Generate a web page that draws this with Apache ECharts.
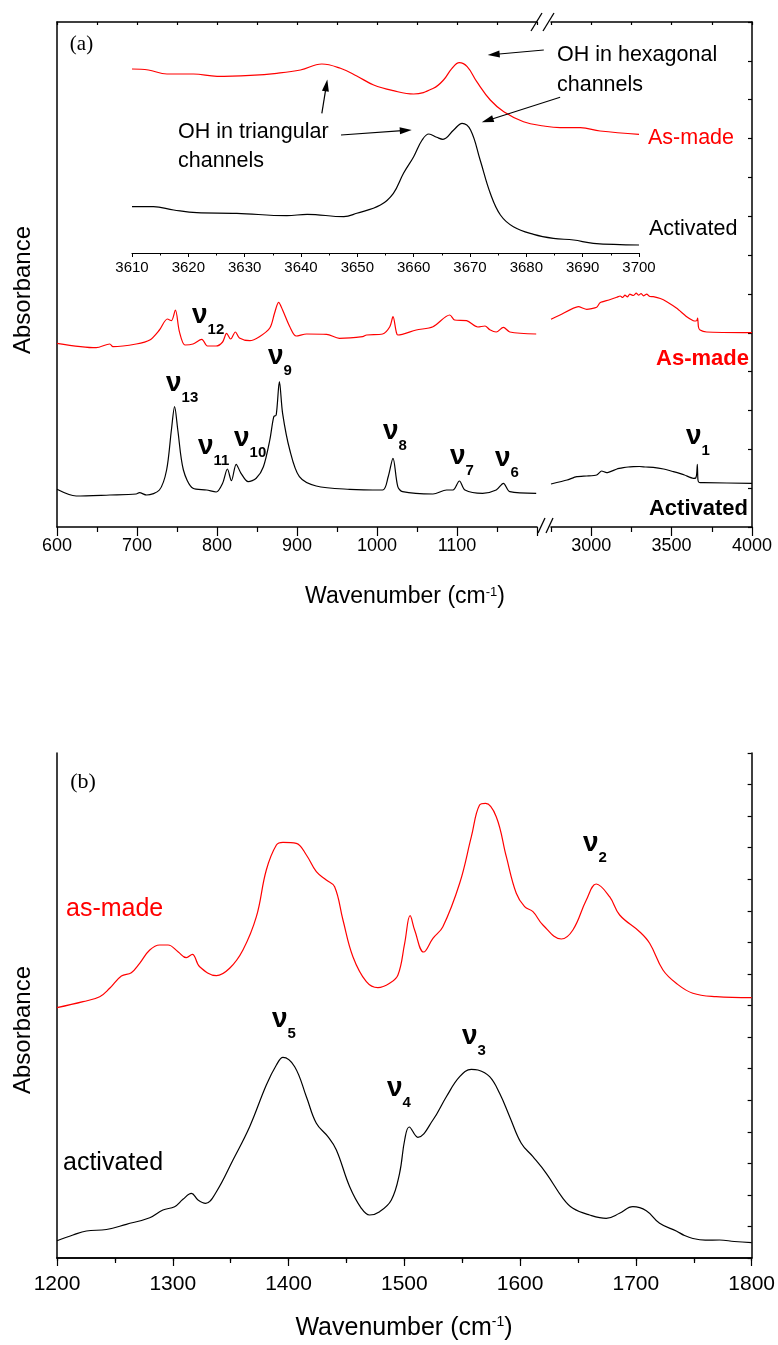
<!DOCTYPE html>
<html><head><meta charset="utf-8">
<script src="https://cdn.jsdelivr.net/npm/echarts@6/dist/echarts.min.js"></script>
<style>html,body{margin:0;padding:0;background:#fff}#c{width:778px;height:1345px}</style>
</head><body><div id="c"></div>
<script>
// ---------------- DATA (wavenumber in cm-1, absorbance in arbitrary offset units) ----------------
// Panel (a), low-wavenumber segment
const aLeftAsMadeWn = [600,649,666,670,699,716,728,738,743,748,753,760,770,781,788,799,807,812,817,823,828,841,853,866,872,877,882,891,899,912,937,953,982,987,1007,1016,1020,1024,1026,1049,1070,1091,1097,1112,1126,1135,1141,1149,1158,1166,1199];
const aLeftAsMadeAbs = [1.837,1.793,1.83,1.803,1.83,1.87,1.97,2.08,2.063,2.17,1.953,1.82,1.83,1.877,1.81,1.81,1.85,1.937,1.88,1.95,1.89,1.863,1.903,1.99,2.14,2.247,2.17,2.003,1.91,1.93,1.927,1.887,1.903,1.92,1.93,2.003,2.103,1.953,1.92,1.97,2.003,2.12,2.07,2.063,2.0,2.01,1.973,1.95,1.997,1.95,1.93];
const aLeftActivatedWn = [600,624,666,699,703,712,728,737,743,747,751,758,770,787,799,807,813,818,824,830,839,849,858,866,871,874,878,882,891,903,924,966,1007,1014,1020,1026,1032,1070,1087,1095,1103,1110,1132,1149,1158,1166,1199];
const aLeftActivatedAbs = [0.377,0.31,0.32,0.33,0.343,0.32,0.37,0.57,0.97,1.203,0.97,0.57,0.387,0.37,0.35,0.437,0.58,0.463,0.627,0.537,0.453,0.487,0.603,0.87,1.103,1.12,1.453,1.137,0.77,0.503,0.41,0.377,0.37,0.503,0.687,0.403,0.353,0.33,0.37,0.37,0.46,0.37,0.337,0.37,0.437,0.353,0.337];
// Panel (a), high-wavenumber segment
const aRightAsMadeWn = [2750,2806,2920,2972,3034,3055,3110,3159,3180,3195,3210,3225,3240,3262,3280,3295,3310,3325,3345,3365,3386,3430,3470,3532,3594,3635,3650,3657,3662,3667,3677,3718,4000];
const aRightAsMadeAbs = [2.077,2.12,2.203,2.177,2.197,2.243,2.27,2.297,2.31,2.295,2.318,2.302,2.328,2.315,2.338,2.318,2.335,2.312,2.328,2.305,2.303,2.285,2.253,2.187,2.103,2.063,2.06,2.065,2.09,2.0,1.97,1.95,1.943];
const aRightActivatedWn = [2750,2850,2910,2972,3034,3065,3096,3160,3200,3230,3262,3300,3340,3386,3450,3511,3580,3635,3650,3656,3660,3664,3672,3700,4000];
const aRightActivatedAbs = [0.43,0.47,0.503,0.51,0.52,0.56,0.543,0.58,0.593,0.6,0.603,0.605,0.6,0.597,0.58,0.553,0.52,0.487,0.49,0.53,0.627,0.47,0.445,0.443,0.437];
// Panel (a) inset, OH region
const insetAsMadeWn = [3610,3612.9,3616.2,3620.9,3625.1,3631,3635.7,3639.9,3643.7,3647,3649.9,3652.9,3656.4,3660,3663.5,3665.3,3666.8,3668.1,3669.5,3671.2,3673.6,3676,3679.5,3683.1,3686,3689.6,3693.1,3700];
const insetAsMadeAbs = [4.58,4.57,4.53,4.53,4.507,4.517,4.537,4.57,4.63,4.587,4.51,4.42,4.363,4.33,4.387,4.47,4.587,4.643,4.603,4.453,4.27,4.153,4.053,4.01,3.993,3.993,3.96,3.927];
const insetActivatedWn = [3610,3613.8,3617.4,3621.5,3628.6,3637.5,3641.1,3647.6,3649.9,3654.1,3656.4,3658.2,3660,3661.5,3662.7,3664.1,3665.2,3667.1,3668.6,3670.1,3671.8,3673.6,3675.4,3677.7,3681.3,3684.8,3688.4,3691.9,3700];
const insetActivatedAbs = [3.203,3.203,3.17,3.143,3.137,3.113,3.127,3.103,3.137,3.22,3.337,3.537,3.703,3.87,3.93,3.897,3.877,3.97,4.037,3.97,3.67,3.337,3.12,3.003,2.927,2.887,2.87,2.837,2.82];
// Panel (b)
const bAsMadeWn = [1200,1222.5,1236.9,1245.5,1255.6,1264.2,1271.4,1280.1,1288.7,1295.9,1304.5,1311.7,1316.9,1323.2,1337.7,1349.1,1360.6,1372.2,1380.8,1389.5,1395.2,1406.7,1415.4,1424,1432.6,1439.8,1447,1455.6,1467.2,1477.2,1487.3,1494.5,1500.3,1505,1508.9,1516.7,1524.7,1533.3,1547.8,1557.9,1565,1570.2,1579.4,1588.1,1596.7,1603.9,1611.1,1619.7,1635.6,1645.6,1657.2,1665.8,1677.3,1686,1703.2,1711.9,1723.4,1734.9,1749.2,1769.4,1800];
const bAsMadeAbs = [2.503,2.563,2.613,2.697,2.82,2.853,2.947,3.08,3.13,3.13,3.063,3.003,3.037,2.913,2.823,2.897,3.08,3.413,3.88,4.13,4.157,4.147,4.03,3.863,3.78,3.713,3.38,3.013,2.763,2.703,2.747,2.83,3.147,3.423,3.28,3.06,3.197,3.313,3.747,4.213,4.53,4.547,4.413,4.013,3.647,3.513,3.463,3.33,3.19,3.28,3.58,3.74,3.613,3.43,3.263,3.147,2.88,2.747,2.647,2.613,2.603];
const bActivatedWn = [1200,1213.8,1225.4,1242.7,1259.9,1280.1,1291.5,1301.6,1308.8,1316.1,1321.8,1328.4,1337.7,1352,1366.4,1380.8,1389.5,1395.2,1405.3,1415.4,1424,1434,1441.3,1452.8,1462.9,1470,1478.7,1488.8,1495.9,1500.3,1504.2,1511.7,1524.7,1536.3,1547.8,1557.9,1563.6,1573.7,1582.3,1591,1601,1611.1,1622.6,1637,1645.6,1660,1674.4,1685.9,1697.4,1709,1720.5,1734.9,1742,1749.2,1760,1772.3,1785,1800];
const bActivatedAbs = [0.173,0.23,0.27,0.285,0.337,0.403,0.48,0.513,0.587,0.647,0.58,0.547,0.663,0.98,1.313,1.73,1.93,2.007,1.913,1.613,1.347,1.213,1.08,0.713,0.497,0.43,0.463,0.58,0.847,1.18,1.31,1.207,1.38,1.613,1.813,1.887,1.88,1.813,1.647,1.413,1.147,1.013,0.847,0.597,0.497,0.43,0.397,0.447,0.513,0.473,0.347,0.27,0.225,0.195,0.178,0.18,0.165,0.153];
// Tick label values
const aLeftTickLabels = [600,700,800,900,1000,1100];
const aRightTickLabels = [3000,3500,4000];
const aRightMinorTicks = [2750,3250,3750];
// Inset arrows (tail, head centre) in inset data coordinates
const insetArrows = [
  [[3643.7,4.137],[3644.5,4.417]],
  [[3647.1,3.92],[3658.6,3.966]],
  [[3683.1,4.77],[3674.2,4.725]],
  [[3686.0,4.297],[3673.1,4.065]]
];
// Peak labels: [subscript, left px, top-of-nu px]
const peakLabels = [
  ['13',166,377],['12',192,309],['11',198,440],['10',234,432],['9',268,350],['8',383,425],
  ['7',450,450],['6',495,452],['1',686,430],
  ['5',272,1013],['4',387,1082],['3',462,1030],['2',583,837]
];

// ---------------- CHART ----------------
const FONT = '"Liberation Sans", Arial, Helvetica, sans-serif';
const SERIF = '"Liberation Serif", "Times New Roman", serif';
const RED = '#ff0000', BLK = '#000000';
const zip = (a, b) => a.map((x, i) => [x, b[i]]);
const lineAx = {show: true, lineStyle: {color: BLK, width: 1.5}};
const noSplit = {show: false};
const plain = v => String(v);

function lineSeries(xi, yi, wn, ab, color, smooth) {
  return {type: 'line', xAxisIndex: xi, yAxisIndex: yi, data: zip(wn, ab), symbol: 'none', showSymbol: false,
    smooth: smooth, silent: true, lineStyle: {color: color, width: 1.2}, itemStyle: {color: color}};
}
function txt(x, y, text, st, extra) {
  return Object.assign({type: 'text', x: x, y: y, silent: true, z: 100,
    style: Object.assign({text: text, fill: BLK, fontFamily: FONT, fontSize: 20, align: 'left', verticalAlign: 'middle'}, st)}, extra || {});
}
function nuLabel(sub, left, top) {
  return txt(left, top - 8, '{n|ν}{s|' + sub + '}', {verticalAlign: 'top',
    rich: {n: {fontFamily: FONT, fontSize: 28, fontWeight: 'bold', fill: BLK, padding: [0, 0, 8, 0]},
           s: {fontFamily: FONT, fontSize: 15, fontWeight: 'bold', fill: BLK, verticalAlign: 'bottom'}}});
}
function xTitle(x, y, fs) {
  return txt(x, y, '{t|Wavenumber (cm}{s|-1}{t|)}', {align: 'center', verticalAlign: 'middle',
    rich: {t: {fontFamily: FONT, fontSize: fs, fill: BLK}, s: {fontFamily: FONT, fontSize: Math.round(fs * 0.58), fill: BLK, verticalAlign: 'top'}}});
}
function brk(x1, y1, x2, y2) {
  return {type: 'line', silent: true, z: 100, shape: {x1: x1, y1: y1, x2: x2, y2: y2}, style: {stroke: BLK, lineWidth: 1.3}};
}

const graphics = [
  txt(81.5, 44, '(a)', {fontFamily: SERIF, fontSize: 21, align: 'center'}),
  txt(83, 782, '(b)', {fontFamily: SERIF, fontSize: 22, align: 'center'}),
  txt(23, 290, 'Absorbance', {fontSize: 24, align: 'center'}, {rotation: Math.PI / 2}),
  txt(23, 1030, 'Absorbance', {fontSize: 24, align: 'center'}, {rotation: Math.PI / 2}),
  xTitle(405, 597, 23),
  xTitle(404, 1328, 25),
  txt(178, 132.5, 'OH in triangular', {fontSize: 21.5}),
  txt(178, 161.5, 'channels', {fontSize: 21.5}),
  txt(557, 55.5, 'OH in hexagonal', {fontSize: 21.5}),
  txt(557, 85, 'channels', {fontSize: 21.5}),
  txt(648, 138.5, 'As-made', {fontSize: 21.5, fill: RED}),
  txt(649, 229, 'Activated', {fontSize: 21.5}),
  txt(749, 359, 'As-made', {fontSize: 22, fontWeight: 'bold', fill: RED, align: 'right'}),
  txt(748, 509, 'Activated', {fontSize: 22, fontWeight: 'bold', align: 'right'}),
  txt(66, 909.5, 'as-made', {fontSize: 25, fill: RED}),
  txt(63, 1163.5, 'activated', {fontSize: 25}),
  brk(538, 533, 545, 518), brk(546, 533, 553, 518),
  brk(531, 31, 542, 13), brk(543, 31, 554, 13)
].concat(peakLabels.map(p => nuLabel(p[0], p[1], p[2])));

const tickStyle = {color: BLK, width: 1.2};
const option = {
  animation: false,
  backgroundColor: '#ffffff',
  grid: [
    {left: 57, top: 22, width: 480, height: 505},
    {left: 551, top: 22, width: 201, height: 505},
    {left: 132, top: 22, width: 507, height: 231},
    {left: 57, top: 753, width: 695, height: 505}
  ],
  xAxis: [
    {gridIndex: 0, type: 'value', position: 'bottom', min: 600, max: 1200, interval: 100, axisLine: lineAx,
     axisTick: {show: true, length: 9, lineStyle: tickStyle}, minorTick: {show: true, splitNumber: 2, length: 5, lineStyle: tickStyle},
     axisLabel: {fontSize: 18, fontFamily: FONT, color: BLK, margin: 10, formatter: v => aLeftTickLabels.indexOf(v) >= 0 ? String(v) : ''},
     splitLine: noSplit, minorSplitLine: noSplit},
    {gridIndex: 0, type: 'value', position: 'top', min: 600, max: 1200, interval: 50, axisLine: lineAx,
     axisTick: {show: true, inside: true, length: 3, lineStyle: tickStyle}, axisLabel: {show: false}, splitLine: noSplit},
    {gridIndex: 1, type: 'value', position: 'bottom', min: 2750, max: 4000, interval: 250, axisLine: lineAx,
     axisTick: {show: true, length: 9, lineStyle: tickStyle, customValues: aRightTickLabels},
     axisLabel: {fontSize: 18, fontFamily: FONT, color: BLK, margin: 10, customValues: aRightTickLabels, formatter: plain}, splitLine: noSplit},
    {gridIndex: 1, type: 'value', position: 'bottom', min: 2750, max: 4000, interval: 250, axisLine: {show: false},
     axisTick: {show: true, length: 5, lineStyle: tickStyle, customValues: aRightMinorTicks},
     axisLabel: {show: false}, splitLine: noSplit},
    {gridIndex: 1, type: 'value', position: 'top', min: 2750, max: 4000, interval: 250, axisLine: lineAx,
     axisTick: {show: true, inside: true, length: 3, lineStyle: tickStyle}, axisLabel: {show: false}, splitLine: noSplit},
    {gridIndex: 2, type: 'value', position: 'bottom', min: 3610, max: 3700, interval: 10,
     axisLine: {show: true, lineStyle: {color: BLK, width: 1}},
     axisTick: {show: true, length: 4, lineStyle: {color: BLK, width: 1}}, minorTick: {show: true, splitNumber: 2, length: 2.5, lineStyle: {color: BLK, width: 1}},
     axisLabel: {fontSize: 15, fontFamily: FONT, color: BLK, margin: 7, formatter: plain}, splitLine: noSplit, minorSplitLine: noSplit},
    {gridIndex: 3, type: 'value', position: 'bottom', min: 1200, max: 1800, interval: 100, axisLine: lineAx,
     axisTick: {show: true, length: 8, lineStyle: tickStyle}, minorTick: {show: true, splitNumber: 2, length: 5, lineStyle: tickStyle},
     axisLabel: {fontSize: 21, fontFamily: FONT, color: BLK, margin: 16, formatter: plain}, splitLine: noSplit, minorSplitLine: noSplit},
    {gridIndex: 3, type: 'value', position: 'top', min: 1200, max: 1800, interval: 50, axisLine: lineAx,
     axisTick: {show: true, inside: true, length: 3, lineStyle: tickStyle}, axisLabel: {show: false}, splitLine: noSplit}
  ],
  yAxis: [
    {gridIndex: 0, type: 'value', position: 'left', min: 0, max: 5.05, axisLine: lineAx, axisTick: {show: false}, axisLabel: {show: false}, splitLine: noSplit},
    {gridIndex: 1, type: 'value', min: 0, max: 5.05, show: false},
    {gridIndex: 1, type: 'value', position: 'right', min: 0, max: 13, interval: 1, axisLine: lineAx,
     axisTick: {show: true, inside: true, length: 4, lineStyle: tickStyle}, axisLabel: {show: false}, splitLine: noSplit},
    {gridIndex: 2, type: 'value', min: 2.74, max: 5.05, show: false},
    {gridIndex: 3, type: 'value', position: 'left', min: 0, max: 5.05, axisLine: lineAx, axisTick: {show: false}, axisLabel: {show: false}, splitLine: noSplit},
    {gridIndex: 3, type: 'value', position: 'right', min: 0, max: 16, interval: 1, axisLine: lineAx,
     axisTick: {show: true, inside: true, length: 4, lineStyle: tickStyle}, axisLabel: {show: false}, splitLine: noSplit}
  ],
  series: [
    lineSeries(0, 0, aLeftAsMadeWn, aLeftAsMadeAbs, RED, 0.3),
    lineSeries(0, 0, aLeftActivatedWn, aLeftActivatedAbs, BLK, 0.3),
    lineSeries(2, 1, aRightAsMadeWn, aRightAsMadeAbs, RED, 0.2),
    lineSeries(2, 1, aRightActivatedWn, aRightActivatedAbs, BLK, 0.2),
    lineSeries(5, 3, insetAsMadeWn, insetAsMadeAbs, RED, 0.4),
    Object.assign(lineSeries(5, 3, insetActivatedWn, insetActivatedAbs, BLK, 0.4), {
      markLine: {silent: true, animation: false, symbol: ['none', 'triangle'], symbolSize: [7, 12],
        lineStyle: {color: BLK, width: 1.2, type: 'solid'}, label: {show: false},
        data: insetArrows.map(a => [{coord: a[0]}, {coord: a[1]}])}
    }),
    lineSeries(6, 4, bAsMadeWn, bAsMadeAbs, RED, 0.4),
    lineSeries(6, 4, bActivatedWn, bActivatedAbs, BLK, 0.4)
  ],
  graphic: graphics
};
const chart = echarts.init(document.getElementById('c'), null, {renderer: 'canvas'});
chart.setOption(option);
</script></body></html>
